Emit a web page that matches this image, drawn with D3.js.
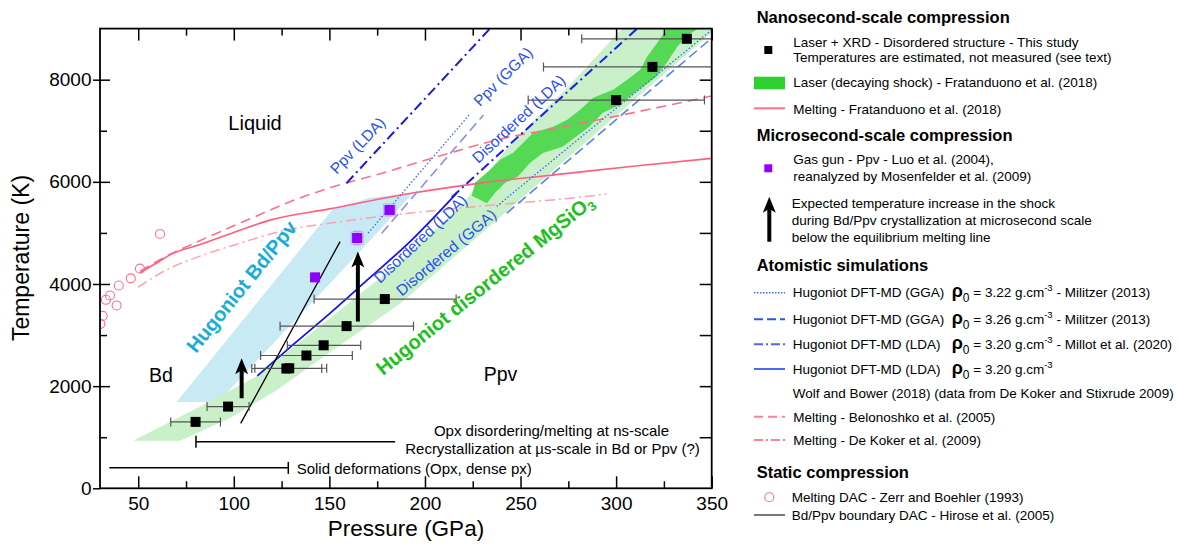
<!DOCTYPE html>
<html><head><meta charset="utf-8">
<script src="https://cdn.jsdelivr.net/npm/d3@7"></script>
<style>
body{margin:0;background:#fff;}
svg{font-family:"Liberation Sans",Arial,Helvetica,sans-serif;}
</style></head><body>
<svg id="c" width="1178" height="548"></svg>
<script>
// ---------------- DATA ----------------
const xMajorTicks = [50,100,150,200,250,300,350];
const xMinorTicks = [75,125,175,225,275,325];
const yMajorTicks = [0,2000,4000,6000,8000];
const yMinorTicks = [1000,3000,5000,7000];
const yRightTicks = [1000,2000,3000,4000,5000,6000,7000,8000];

// Laser + XRD (this study): [P, T, Pmin, Pmax]
const xrdPoints = [
  [80,1300,67,93],[97,1600,86,108],[127.5,2345,109.4,146],[129,2350,111,148.6],
  [138,2600,114,162],[147,2800,128,166.4],[159,3175,124.2,194],[179,3705,142,216.3],
  [300,7600,254,346.2],[319,8250,262,380],[337,8800,282,380]
];
// Gas gun (Luo 2004 / Mosenfelder 2009): [P, T, Perr, Terr]
const gasGunPoints = [[142.5,4130,0,0],[164.5,4900,2.5,130],[181.5,5450,2.5,80]];
// Melting DAC - Zerr and Boehler (1993)
const zerrBoehler = [[61.4,4980],[50.9,4300],[46.1,4110],[39.8,3970],[35.2,3775],[33.1,3690],[38.7,3580],[31.4,3375],[30.2,3220]];
// Melting curves
const meltFratanduono = [[51,4220],[60,4420],[66.6,4570],[82,4770],[100,5010],[119,5250],[150,5470],[192,5770],[230,5980],[276,6170],[310,6310],[350,6460]];
const meltBelonoshko = [[51,4250],[65,4550],[80,4810],[110,5300],[130,5620],[150,5880],[176.5,6160],[210,6530],[237.5,6820],[270,7060],[302,7300],[350,7680]];
const meltDeKoker = [[50,3940],[66,4300],[82,4540],[100,4760],[128,5060],[150,5190],[176,5320],[200,5420],[240,5560],[276,5680],[295,5760]];
// Bd/Ppv boundary DAC - Hirose (2005)
const hiroseBoundary = [[103.6,1270],[155.6,4830]];
// Hugoniots DFT-MD
const wolfBowerLDA = [[112.3,2200],[130,2780],[150.4,3430],[170,4085],[192.2,4830],[216.6,5780]];
const millotDisLDA = [[214,5700],[311,9000]];
const millotPpvLDA = [[159,5975],[234,9000]];
const militzerPpv322 = [[170.2,4995],[223.6,7330]];
const militzerPpv326 = [[177.4,4995],[230.6,7310]];
const militzerDis322 = [[237.5,5520],[349,8945]];
const militzerDis326 = [[242.8,5387],[350,8815]];
// Shaded Hugoniot regions
const bdPpvBand = [[70.1,1690],[91.7,1690],[150.4,4016],[176.5,5060],[193.8,5785],[171.3,5687],[151.9,5471]];
const disorderedUpper = [[47.3,932],[86,1671],[112.2,2200],[150.4,3336],[187,4433],[219.4,5550],[244.5,6725],[275.9,7900],[303.2,9000]];
const disorderedLower = [[71.9,932],[98,1377],[122.6,1926],[150.4,2670],[187,3614],[218.4,4633],[249.8,5652],[291.6,7023],[350.2,8923],[352,9000]];
const fratLeft = [[224.5,5726],[226.2,5981],[234.1,6235],[239.3,6431],[246.1,6568],[251.4,6764],[256.6,6960],[267,7077],[274.4,7214],[281.2,7410],[288,7645],[298.4,7802],[305.8,7998],[312.6,8194],[316.2,8449],[321.5,8723],[326.7,9000]];
const fratRight = [[232.4,5583],[236.7,5785],[242,5981],[248.5,6098],[255,6372],[262,6568],[272,6686],[279,6882],[286,7077],[293,7351],[300,7469],[307,7665],[314,7861],[321,8057],[326.5,8331],[332,8645],[338,8880],[343,9000]];
// Arrows: [P, Ttail, Ttip]
const arrowData = [[104.1,1763,2546],[164.9,3264,4635]];
// Range bars: [Pmin, Pmax, T]
const recrystBar = [80.2,184.4,913];
const solidBar = [34.9,128.5,400];

// ---------------- CHART ----------------
const svg = d3.select('#c');
const X0=100, X1=711.7, Y0=488.3, Y1=28.6;
const x = d3.scaleLinear().domain([30,350]).range([X0,X1]);
const y = d3.scaleLinear().domain([0,9000]).range([Y0,Y1]);
const FONT = '"Liberation Sans",Arial,Helvetica,sans-serif';

svg.append('defs').append('clipPath').attr('id','clip')
  .append('rect').attr('x',X0).attr('y',Y1).attr('width',X1-X0).attr('height',Y0-Y1);
const plot = svg.append('g').attr('clip-path','url(#clip)');

const line = d3.line().x(d=>x(d[0])).y(d=>y(d[1]));
const smooth = d3.line().curve(d3.curveMonotoneX).x(d=>x(d[0])).y(d=>y(d[1]));
const poly = pts => line(pts)+'Z';

// bands
plot.append('path').attr('d',poly(bdPpvBand)).attr('fill','#c8eaf5');
plot.append('path').attr('d',poly(disorderedUpper.concat(disorderedLower.slice().reverse()))).attr('fill','#c9f0c9');
plot.append('path').attr('d',poly(fratLeft.concat(fratRight.slice().reverse()))).attr('fill','#55d955');

// melting curves
plot.append('path').attr('d',smooth(meltDeKoker)).attr('fill','none').attr('stroke','#ffa0b2').attr('stroke-width',1.5).attr('stroke-dasharray','10,4,2,4');
plot.append('path').attr('d',smooth(meltBelonoshko)).attr('fill','none').attr('stroke','#ff6e8a').attr('stroke-width',1.6).attr('stroke-dasharray','10,6');
plot.append('path').attr('d',smooth(meltFratanduono)).attr('fill','none').attr('stroke','#ff5f7f').attr('stroke-width',1.6);

// hugoniots
plot.append('path').attr('d',line(millotPpvLDA)).attr('fill','none').attr('stroke','#1a1ad8').attr('stroke-width',2).attr('stroke-dasharray','10,4,2,4');
plot.append('path').attr('d',line(militzerPpv322)).attr('fill','none').attr('stroke','#3a66ff').attr('stroke-width',1.3).attr('stroke-dasharray','1.5,2');
plot.append('path').attr('d',line(militzerPpv326)).attr('fill','none').attr('stroke','#8c8cf0').attr('stroke-width',1.6).attr('stroke-dasharray','10,5');
plot.append('path').attr('d',smooth(wolfBowerLDA)).attr('fill','none').attr('stroke','#1414e6').attr('stroke-width',1.8);
plot.append('path').attr('d',line(millotDisLDA)).attr('fill','none').attr('stroke','#1a1af0').attr('stroke-width',2).attr('stroke-dasharray','10,4,2,4');
plot.append('path').attr('d',line(militzerDis322)).attr('fill','none').attr('stroke','#3a66ff').attr('stroke-width',1.3).attr('stroke-dasharray','1.5,2');
plot.append('path').attr('d',line(militzerDis326)).attr('fill','none').attr('stroke','#5a82e6').attr('stroke-width',1.6).attr('stroke-dasharray','10,5');

// Hirose boundary
plot.append('path').attr('d',line(hiroseBoundary)).attr('fill','none').attr('stroke','#000').attr('stroke-width',1.3);

// Zerr & Boehler circles
plot.selectAll('circle.zb').data(zerrBoehler).enter().append('circle')
  .attr('cx',d=>x(d[0])).attr('cy',d=>y(d[1])).attr('r',4.5)
  .attr('fill','none').attr('stroke','#ff6e8a').attr('stroke-width',1.1);

// XRD error bars + squares
const eb = plot.append('g').attr('stroke','#555').attr('stroke-width',1.2);
xrdPoints.forEach(d=>{
  const yy=y(d[1]);
  eb.append('line').attr('x1',x(d[2])).attr('x2',x(d[3])).attr('y1',yy).attr('y2',yy);
  [d[2],d[3]].forEach(p=>eb.append('line').attr('x1',x(p)).attr('x2',x(p)).attr('y1',yy-4.5).attr('y2',yy+4.5));
});
plot.selectAll('rect.xrd').data(xrdPoints).enter().append('rect')
  .attr('x',d=>x(d[0])-5).attr('y',d=>y(d[1])-5).attr('width',10).attr('height',10).attr('fill','#000');

// Gas gun points
gasGunPoints.forEach(d=>{
  const cx=x(d[0]), cy=y(d[1]);
  if(d[2]>0){
    const g=plot.append('g').attr('stroke','#b58cff').attr('stroke-width',1.2);
    g.append('line').attr('x1',x(d[0]-d[2])).attr('x2',x(d[0]+d[2])).attr('y1',cy).attr('y2',cy);
    g.append('line').attr('x1',cx).attr('x2',cx).attr('y1',y(d[1]-d[3])).attr('y2',y(d[1]+d[3]));
    [d[0]-d[2],d[0]+d[2]].forEach(p=>g.append('line').attr('x1',x(p)).attr('x2',x(p)).attr('y1',cy-4).attr('y2',cy+4));
    [d[1]-d[3],d[1]+d[3]].forEach(t=>g.append('line').attr('x1',cx-4).attr('x2',cx+4).attr('y1',y(t)).attr('y2',y(t)));
    plot.append('rect').attr('x',cx-6).attr('y',cy-6).attr('width',12).attr('height',12).attr('fill','none').attr('stroke','#c9a8ff').attr('stroke-width',1);
  }
  plot.append('rect').attr('x',cx-5).attr('y',cy-5).attr('width',10).attr('height',10).attr('fill','#8f00ff');
});

// arrows
function arrow(g, cx, yTail, yTip){
  g.append('line').attr('x1',cx).attr('x2',cx).attr('y1',yTail).attr('y2',yTip+10).attr('stroke','#000').attr('stroke-width',4);
  g.append('path').attr('d',`M${cx},${yTip}L${cx+6.5},${yTip+16}L${cx},${yTip+12}L${cx-6.5},${yTip+16}Z`).attr('fill','#000');
}
arrowData.forEach(d=>arrow(svg, x(d[0]), y(d[1]), y(d[2])));

// range bars
function bar(b, capLeft){
  const yy=y(b[2]);
  const g=svg.append('g').attr('stroke','#000').attr('stroke-width',1.5);
  g.append('line').attr('x1',x(b[0])).attr('x2',x(b[1])).attr('y1',yy).attr('y2',yy);
  const cp = capLeft? b[0]:b[1];
  g.append('line').attr('x1',x(cp)).attr('x2',x(cp)).attr('y1',yy-6).attr('y2',yy+6);
}
bar(recrystBar,true);
bar(solidBar,false);

// text annotations
function txt(px,py,s,size,opts={}){
  const t=svg.append('text').attr('x',px).attr('y',py).attr('font-size',size).attr('fill',opts.fill||'#000')
    .attr('text-anchor',opts.anchor||'start').attr('font-weight',opts.bold?'bold':'normal');
  if(opts.rot) t.attr('transform',`rotate(${opts.rot},${px},${py})`);
  t.text(s); return t;
}
txt(x(111.1),y(7019),'Liquid',20,{anchor:'middle'});
txt(x(61.9),y(2088),'Bd',19.5,{anchor:'middle'});
txt(x(239.5),y(2102),'Ppv',19.5,{anchor:'middle'});
txt(551.5,436,'Opx disordering/melting at ns-scale',15,{anchor:'middle'});
txt(552.5,453.5,'Recrystallization at µs-scale in Bd or Ppv (?)',15,{anchor:'middle'});
txt(296.7,474,'Solid deformations (Opx, dense px)',15);

const BLUE='#2a4ff0';
txt(336.7,175,'Ppv (LDA)',15.5,{fill:BLUE,rot:-46});
txt(480,107.3,'Ppv (GGA)',15.5,{fill:BLUE,rot:-45});
txt(478.3,164,'Disordered (LDA)',15.5,{fill:BLUE,rot:-43});
txt(380,284,'Disordered (LDA)',15.5,{fill:BLUE,rot:-43});
txt(401.7,296.7,'Disordered (GGA)',15.5,{fill:BLUE,rot:-40});
txt(196,354,'Hugoniot Bd/Ppv',20,{fill:'#17acd9',bold:true,rot:-51});
const hg = txt(383,376,'Hugoniot disordered MgSiO',20,{fill:'#20c020',bold:true,rot:-39});
hg.append('tspan').attr('font-size',13).attr('dy',4).text('3');

// axes
function styleAxis(g){ g.select('.domain').remove(); g.attr('font-family',FONT); g.selectAll('line').attr('stroke','#000').attr('stroke-width',1.5); }
svg.append('g').attr('transform',`translate(0,${Y0})`).call(d3.axisBottom(x).tickValues(xMajorTicks).tickSize(-12).tickPadding(8).tickFormat(d3.format('d')))
  .call(styleAxis).attr('font-size',19);
svg.append('g').attr('transform',`translate(0,${Y0})`).call(d3.axisBottom(x).tickValues(xMinorTicks).tickSize(-7).tickFormat('')).call(styleAxis);
svg.append('g').attr('transform',`translate(0,${Y1})`).call(d3.axisTop(x).tickValues(xMajorTicks).tickSize(-12).tickFormat('')).call(styleAxis);
svg.append('g').attr('transform',`translate(0,${Y1})`).call(d3.axisTop(x).tickValues(xMinorTicks).tickSize(-7).tickFormat('')).call(styleAxis);
svg.append('g').attr('transform',`translate(${X0},0)`).call(d3.axisLeft(y).tickValues(yMajorTicks).tickSize(7).tickPadding(1.5).tickFormat(d3.format('d')))
  .call(styleAxis).attr('font-size',19);
svg.append('g').attr('transform',`translate(${X0},0)`).call(d3.axisLeft(y).tickValues(yMajorTicks.filter(v=>v>0)).tickSize(-10).tickFormat('')).call(styleAxis);
svg.append('g').attr('transform',`translate(${X0},0)`).call(d3.axisLeft(y).tickValues(yMinorTicks).tickSize(-7).tickFormat('')).call(styleAxis);
svg.append('g').attr('transform',`translate(${X1},0)`).call(d3.axisRight(y).tickValues(yRightTicks).tickSize(-12).tickFormat('')).call(styleAxis);
svg.append('rect').attr('x',X0).attr('y',Y1).attr('width',X1-X0).attr('height',Y0-Y1).attr('fill','none').attr('stroke','#000').attr('stroke-width',1.8);

txt(406,536,'Pressure (GPa)',22.5,{anchor:'middle'});
txt(28.5,258,'Temperature (K)',23,{anchor:'middle',rot:-90});

// ---------------- LEGEND ----------------
const LX=793.3, HX=756.7;
function head(s,yc){ txt(HX,yc+5.9,s,16.5,{bold:true}); }
function lab(s,yc,lx){ txt(lx||LX,yc+4.8,s,13.5); }
function sample(yc,color,w,dash){
  const l=svg.append('line').attr('x1',754).attr('x2',785).attr('y1',yc).attr('y2',yc).attr('stroke',color).attr('stroke-width',w);
  if(dash) l.attr('stroke-dasharray',dash);
}
head('Nanosecond-scale compression',16.7);
svg.append('rect').attr('x',764.3).attr('y',46).attr('width',8).attr('height',8).attr('fill','#000');
lab('Laser + XRD - Disordered structure - This study',41.7);
lab('Temperatures are estimated, not measured (see text)',57.3);
svg.append('rect').attr('x',754).attr('y',76.7).attr('width',31).attr('height',12.6).attr('fill','#2ecf2e');
lab('Laser (decaying shock) - Fratanduono et al. (2018)',81.7);
sample(108.3,'#ff6e8a',2);
lab('Melting - Fratanduono et al. (2018)',109.3);

head('Microsecond-scale compression',135);
svg.append('rect').attr('x',764.3).attr('y',164.3).attr('width',8).attr('height',8).attr('fill','#8f00ff');
lab('Gas gun - Ppv - Luo et al. (2004),',159.3);
lab('reanalyzed by Mosenfelder et al. (2009)',176);
arrow(svg,769.3,241.7,196.7);
lab('Expected temperature increase in the shock',203.3,791.7);
lab('during Bd/Ppv crystallization at microsecond scale',220,791.7);
lab('below the equilibrium melting line',236.7,791.7);

head('Atomistic simulations',265);
function rhoRow(yc, rho, post){
  const t=svg.append('text').attr('x',951.7).attr('y',yc+4.8).attr('font-size',13.5);
  t.append('tspan').attr('font-size',18).attr('font-weight','bold').text('ρ');
  t.append('tspan').attr('font-size',12).attr('dy',5).text('0');
  t.append('tspan').attr('dy',-5).text(' = '+rho+' g.cm');
  t.append('tspan').attr('font-size',9.5).attr('dy',-6).text('-3');
  t.append('tspan').attr('dy',6).text(post);
}
sample(292.7,'#3a66ff',1.5,'1.5,1.5');
lab('Hugoniot DFT-MD (GGA)',292.3,792.7); rhoRow(292.3,'3.22','  - Militzer (2013)');
sample(319.3,'#2a55f0',2,'9,4');
lab('Hugoniot DFT-MD (GGA)',319.3,792.7); rhoRow(319.3,'3.26','  - Militzer (2013)');
sample(344.3,'#4a6af0',2,'9,3,2,3');
lab('Hugoniot DFT-MD (LDA)',344.3,792.7); rhoRow(344.3,'3.20',' - Millot et al. (2020)');
sample(369,'#4a6af0',2);
lab('Hugoniot DFT-MD (LDA)',369,792.7); rhoRow(369,'3.20','');
lab('Wolf and Bower (2018) (data from De Koker and Stixrude 2009)',393.3,792.7);
sample(416.7,'#ff8099',2,'9,5');
lab('Melting - Belonoshko et al. (2005)',416.7);
sample(440,'#ff8099',2,'9,3,2,3');
lab('Melting - De Koker et al. (2009)',440);

head('Static compression',471.7);
svg.append('circle').attr('cx',769.3).attr('cy',497.3).attr('r',4.5).attr('fill','none').attr('stroke','#ff6e8a').attr('stroke-width',1.1);
lab('Melting DAC - Zerr and Boehler (1993)',497,791.7);
sample(515,'#777',2);
lab('Bd/Ppv boundary DAC - Hirose et al. (2005)',515,791.7);
</script>
</body></html>
